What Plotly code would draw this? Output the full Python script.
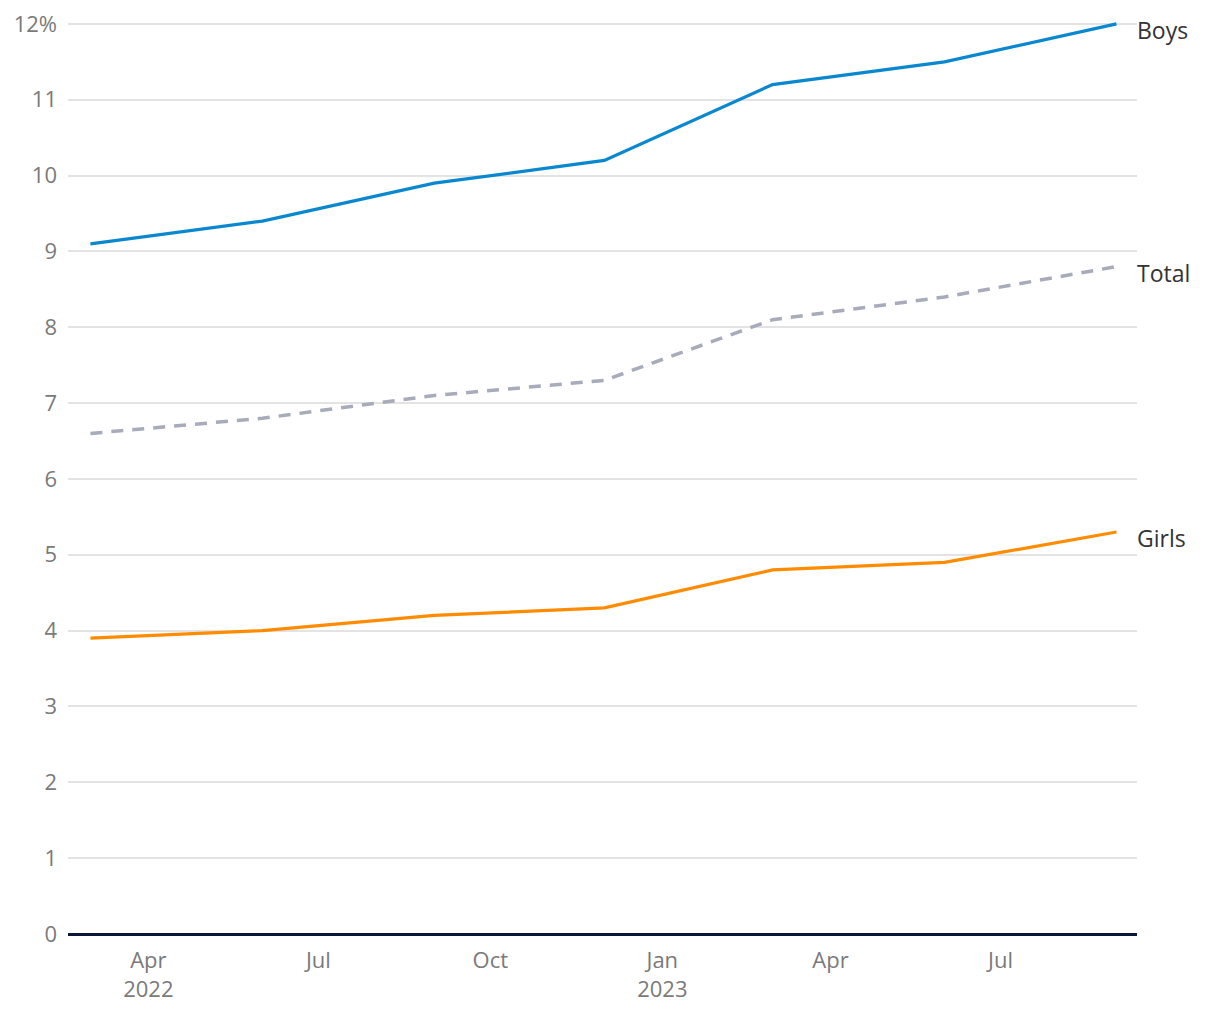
import plotly.graph_objects as go

dates = ["2022-03-01", "2022-06-01", "2022-09-01", "2022-12-01",
         "2023-03-01", "2023-06-01", "2023-09-01"]
boys = [9.1, 9.4, 9.9, 10.2, 11.2, 11.5, 12.0]
total = [6.6, 6.8, 7.1, 7.3, 8.1, 8.4, 8.8]
girls = [3.9, 4.0, 4.2, 4.3, 4.8, 4.9, 5.3]

x_tickvals = ["2022-04-01", "2022-07-01", "2022-10-01", "2023-01-01",
              "2023-04-01", "2023-07-01"]
x_ticktext = ["Apr<br>2022", "Jul", "Oct", "Jan<br>2023", "Apr", "Jul"]
y_tickvals = list(range(0, 13))
y_ticktext = [str(v) for v in range(0, 12)] + ["12%"]

FONT = "Open Sans"

fig = go.Figure()
fig.add_trace(go.Scatter(x=dates, y=total, mode="lines", name="Total",
                         line=dict(color="#a7abba", width=3.5, dash="12px,9px"),
                         hoverinfo="skip", cliponaxis=False))
fig.add_trace(go.Scatter(x=dates, y=girls, mode="lines", name="Girls",
                         line=dict(color="#ff8c00", width=3.2), hoverinfo="skip",
                         cliponaxis=False))
fig.add_trace(go.Scatter(x=dates, y=boys, mode="lines", name="Boys",
                         line=dict(color="#0a88cf", width=3.2), hoverinfo="skip",
                         cliponaxis=False))

for name, vals in [("Boys", boys), ("Total", total), ("Girls", girls)]:
    fig.add_annotation(x=1, xref="paper", y=vals[-1], yref="y", text=name,
                       showarrow=False, xanchor="left", yanchor="middle",
                       xshift=-2, yshift=-6,
                       font=dict(family=FONT, size=23, color="#333333"))

fig.update_layout(
    width=1220, height=1020,
    margin=dict(l=68, r=83, t=22, b=86),
    paper_bgcolor="white", plot_bgcolor="white",
    showlegend=False,
    font=dict(family=FONT, size=22, color="#7a7a7a"),
)
fig.update_xaxes(
    type="date", range=["2022-02-17", "2023-09-12"],
    tickvals=x_tickvals, ticktext=x_ticktext,
    showgrid=False, showline=False, zeroline=False,
    ticks="", ticklabelstandoff=11, automargin=False,
    tickfont=dict(family=FONT, size=22, color="#7a7a7a"),
)
fig.update_yaxes(
    range=[0, 12.025], tickvals=y_tickvals, ticktext=y_ticktext,
    showgrid=True, gridcolor="#e3e3e3", gridwidth=1.5,
    zeroline=True, zerolinecolor="#0b1738", zerolinewidth=3,
    showline=False, ticks="", ticklabelstandoff=10, automargin=False,
    tickfont=dict(family=FONT, size=22, color="#7a7a7a"),
)

fig.write_html("out.html")
